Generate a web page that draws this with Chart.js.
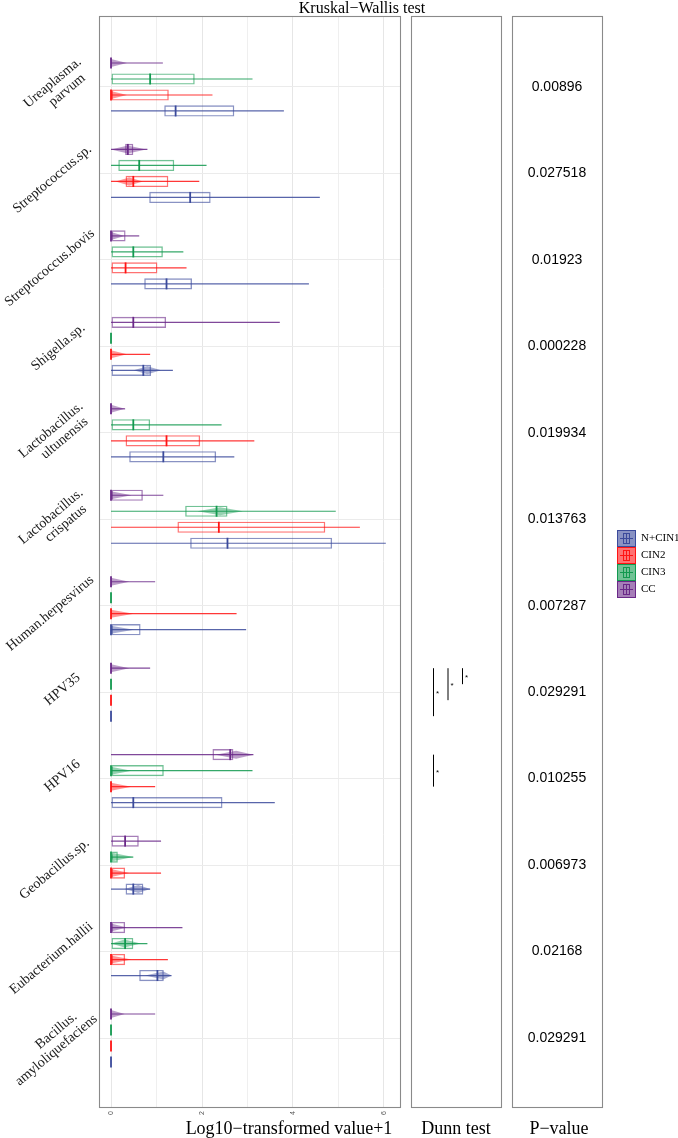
<!DOCTYPE html>
<html>
<head>
<meta charset="utf-8">
<title>Kruskal-Wallis test</title>
<script src="https://cdn.jsdelivr.net/npm/chart.js@4.4.1/dist/chart.umd.min.js"></script>
<style>
  html, body { margin: 0; padding: 0; background: #fff; }
  #wrap { width: 678px; height: 1138px; }
</style>
</head>
<body>
<div id="wrap"><canvas id="chart" width="678" height="1138"></canvas></div>
<script>
// taxa, top to bottom
var taxa = [['Ureaplasma.', 'parvum'], ['Streptococcus.sp.'], ['Streptococcus.bovis'], ['Shigella.sp.'],
  ['Lactobacillus.', 'ultunensis'], ['Lactobacillus.', 'crispatus'], ['Human.herpesvirus'], ['HPV35'],
  ['HPV16'], ['Geobacillus.sp.'], ['Eubacterium.hallii'], ['Bacillus.', 'amyloliquefaciens']];
var taxonKeys = ['Ureaplasma.parvum', 'Streptococcus.sp.', 'Streptococcus.bovis', 'Shigella.sp.',
  'Lactobacillus.ultunensis', 'Lactobacillus.crispatus', 'Human.herpesvirus', 'HPV35',
  'HPV16', 'Geobacillus.sp.', 'Eubacterium.hallii', 'Bacillus.amyloliquefaciens'];
var groups = ['N+CIN1', 'CIN2', 'CIN3', 'CC'];
var groupColors = ['#3b4a9b', '#ff1414', '#12994f', '#6a2888'];

// [min, q1, median, q3, max] per taxon
var nCin1Stats = [[0, 1.17, 1.42, 2.71, 3.80], [0, 0.84, 1.74, 2.19, 4.59], [0, 0.73, 1.22, 1.78, 4.35], [0, 0, 0.71, 0.88, 1.36],
  [0, 0.40, 1.15, 2.31, 2.71], [0, 1.74, 2.56, 4.86, 6.04], [0, 0, 0, 0.65, 2.97], [0, 0, 0, 0, 0],
  [0, 0, 0.49, 2.45, 3.60], [0, 0.32, 0.49, 0.71, 0.86], [0, 0.62, 1.02, 1.16, 1.33], [0, 0, 0, 0, 0]];
var cin2Stats = [[0, 0, 0, 1.27, 2.23], [0, 0.32, 0.49, 1.26, 1.94], [0, 0, 0.32, 1.02, 1.66], [0, 0, 0, 0, 0.86],
  [0, 0.32, 1.22, 1.96, 3.15], [0, 1.46, 2.37, 4.71, 5.47], [0, 0, 0, 0, 2.76], [0, 0, 0, 0, 0],
  [0, 0, 0, 0, 0.97], [0, 0, 0, 0.31, 1.10], [0, 0, 0, 0.31, 1.25], [0, 0, 0, 0, 0]];
var cin3Stats = [[0, 0, 0.86, 1.84, 3.11], [0, 0.16, 0.62, 1.39, 2.10], [0, 0, 0.49, 1.14, 1.59], [0, 0, 0, 0, 0],
  [0, 0, 0.49, 0.86, 2.43], [0, 1.63, 2.32, 2.56, 4.94], [0, 0, 0, 0, 0], [0, 0, 0, 0, 0],
  [0, 0, 0, 1.16, 3.11], [0, 0, 0, 0.15, 0.49], [0, 0, 0.31, 0.49, 0.80], [0, 0, 0, 0, 0]];
var ccStats = [[0, 0, 0, 0, 1.14], [0, 0.31, 0.37, 0.49, 0.80], [0, 0, 0, 0.32, 0.62], [0, 0, 0.49, 1.21, 3.71],
  [0, 0, 0, 0, 0.31], [0, 0, 0, 0.70, 1.15], [0, 0, 0, 0, 0.97], [0, 0, 0, 0, 0.86],
  [0, 2.23, 2.62, 2.69, 3.13], [0, 0, 0.31, 0.61, 1.10], [0, 0, 0, 0.31, 1.57], [0, 0, 0, 0, 0.97]];

// violin outline: [peak value, spread] or null
var nCin1Violin = [null, null, null, [0.8, 0.3], null, null, [0, 0.5], null, null, [0.6, 0.3], [1.15, 0.4], null];
var cin2Violin = [[0, 0.35], [0.4, 0.3], null, [0, 0.35], null, null, [0, 0.5], null, [0, 0.45], [0, 0.4], [0, 0.45], null];
var cin3Violin = [null, null, null, null, null, [2.4, 0.5], null, null, [0, 0.45], [0.05, 0.45], [0.3, 0.35], null];
var ccViolin = [[0, 0.35], [0.37, 0.4], [0, 0.3], null, [0, 0.3], [0, 0.45], [0, 0.4], [0, 0.4], [2.75, 0.45], null, [0, 0.35], [0, 0.3]];

var pValues = ['0.00896', '0.027518', '0.01923', '0.000228', '0.019934', '0.013763',
  '0.007287', '0.029291', '0.010255', '0.006973', '0.02168', '0.029291'];

// Dunn test: [taxon, group a, group b, label]
var dunnPairs = [['HPV35', 'CC', 'N+CIN1', '*'], ['HPV35', 'CC', 'CIN2', '*'], ['HPV35', 'CC', 'CIN3', '*'],
  ['HPV16', 'CC', 'CIN2', '*']];

var xTicks = [0, 1, 2, 3, 4, 5, 6];

var statsByGroup = [nCin1Stats, cin2Stats, cin3Stats, ccStats];
var violinByGroup = [nCin1Violin, cin2Violin, cin3Violin, ccViolin];

function rgba(hex, a) {
  var n = parseInt(hex.slice(1), 16);
  return 'rgba(' + (n >> 16) + ',' + ((n >> 8) & 255) + ',' + (n & 255) + ',' + a + ')';
}

// datasets drawn top to bottom inside each taxon: CC, CIN3, CIN2, N+CIN1
var order = [3, 2, 1, 0];
var datasets = order.map(function(g) {
  return {
    label: groups[g],
    data: statsByGroup[g].map(function(s, i) {
      return { x: s[1] === s[3] ? null : [s[1], s[3]], y: i };
    }),
    backgroundColor: 'rgba(255,255,255,0)',
    borderColor: rgba(groupColors[g], 0.6),
    borderWidth: 1.4,
    borderSkipped: false,
    categoryPercentage: 0.74,
    barPercentage: 0.7
  };
});

function groupCenter(chart, g, i) {
  return chart.getDatasetMeta(order.indexOf(g)).data[i].y;
}

var SERIF = '"Liberation Serif", "DejaVu Serif", serif';
var SANS = '"Liberation Sans", Arial, sans-serif';

var boxPlugin = {
  id: 'boxParts',
  beforeDatasetsDraw: function(chart) {
    var ctx = chart.ctx, xs = chart.scales.x;
    ctx.save();
    order.forEach(function(g, d) {
      var meta = chart.getDatasetMeta(d);
      statsByGroup[g].forEach(function(s, i) {
        var y = meta.data[i].y;
        var v = violinByGroup[g][i];
        if (v) {
          var a = Math.max(s[0], v[0] - v[1]), b = Math.min(s[4], v[0] + v[1]);
          ctx.fillStyle = rgba(groupColors[g], 0.45);
          ctx.beginPath();
          ctx.moveTo(xs.getPixelForValue(a), y);
          ctx.lineTo(xs.getPixelForValue(v[0]), y - 4);
          ctx.lineTo(xs.getPixelForValue(b), y);
          ctx.lineTo(xs.getPixelForValue(v[0]), y + 4);
          ctx.closePath();
          ctx.fill();
        }
        if (s[4] > s[0]) {
          ctx.strokeStyle = rgba(groupColors[g], 0.85);
          ctx.lineWidth = 1.2;
          ctx.beginPath();
          ctx.moveTo(xs.getPixelForValue(s[0]), y);
          ctx.lineTo(xs.getPixelForValue(s[4]), y);
          ctx.stroke();
        }
      });
    });
    ctx.restore();
  },
  afterDatasetsDraw: function(chart) {
    var ctx = chart.ctx, xs = chart.scales.x;
    ctx.save();
    order.forEach(function(g, d) {
      var meta = chart.getDatasetMeta(d);
      statsByGroup[g].forEach(function(s, i) {
        var y = meta.data[i].y, h = 5.5;
        var mx = xs.getPixelForValue(s[2]);
        ctx.strokeStyle = groupColors[g];
        ctx.lineWidth = 1.8;
        ctx.beginPath();
        ctx.moveTo(mx, y - h);
        ctx.lineTo(mx, y + h);
        ctx.stroke();
      });
    });
    ctx.restore();
  },
  afterDraw: function(chart) {
    var ctx = chart.ctx, ys = chart.scales.y, area = chart.chartArea;
    var top = area.top, bottom = area.bottom;
    ctx.save();
    // panel borders
    ctx.strokeStyle = '#8a8a8a';
    ctx.lineWidth = 1.1;
    ctx.strokeRect(area.left + 0.5, top + 0.5, area.right - area.left, bottom - top);
    var dunnLeft = 411, dunnRight = 501, pLeft = 512, pRight = 602;
    ctx.strokeRect(dunnLeft + 0.5, top + 0.5, dunnRight - dunnLeft, bottom - top);
    ctx.strokeRect(pLeft + 0.5, top + 0.5, pRight - pLeft, bottom - top);

    // taxon labels, rotated
    ctx.fillStyle = '#1a1a1a';
    ctx.font = '14px ' + SERIF;
    ctx.textBaseline = 'middle';
    ctx.textAlign = 'left';
    taxa.forEach(function(lines, i) {
      var cy = ys.getPixelForValue(i);
      ctx.save();
      ctx.translate(70, cy - 9);
      ctx.rotate(-40 * Math.PI / 180);
      lines.forEach(function(t, k) {
        var w = ctx.measureText(t).width;
        ctx.fillText(t, -0.735 * w, (k - (lines.length - 1) / 2) * 15);
      });
      ctx.restore();
    });

    // p-values
    ctx.fillStyle = '#000';
    ctx.font = '14px ' + SANS;
    ctx.textAlign = 'center';
    pValues.forEach(function(p, i) {
      ctx.fillText(p, (pLeft + pRight) / 2, ys.getPixelForValue(i));
    });

    // Dunn test brackets
    var cols = {};
    ctx.strokeStyle = '#000';
    ctx.lineWidth = 1;
    dunnPairs.forEach(function(p) {
      var i = taxonKeys.indexOf(p[0]);
      var k = cols[p[0]] || 0;
      cols[p[0]] = k + 1;
      var y1 = groupCenter(chart, groups.indexOf(p[1]), i);
      var y2 = groupCenter(chart, groups.indexOf(p[2]), i);
      var x = dunnLeft + 22 + k * 14.5;
      ctx.beginPath();
      ctx.moveTo(x + 0.5, y1);
      ctx.lineTo(x + 0.5, y2);
      ctx.stroke();
      ctx.font = '8px ' + SANS;
      ctx.textAlign = 'left';
      ctx.fillText(p[3], x + 3, (y1 + y2) / 2 + 2);
    });

    // titles
    ctx.fillStyle = '#000';
    ctx.textBaseline = 'alphabetic';
    ctx.textAlign = 'center';
    ctx.font = '16px ' + SERIF;
    ctx.fillText('Kruskal\u2212Wallis test', 362, 13);
    ctx.font = '18px ' + SERIF;
    ctx.fillText('Log10\u2212transformed value+1', 289, 1134);
    ctx.fillText('Dunn test', (dunnLeft + dunnRight) / 2, 1134);
    ctx.fillText('P\u2212value', (pLeft + pRight) / 2 + 2, 1134);

    // legend
    ctx.textBaseline = 'middle';
    ctx.textAlign = 'left';
    ctx.font = '11px ' + SERIF;
    groups.forEach(function(g, k) {
      var x0 = 617, y0 = 530 + k * 17, c = groupColors[k];
      ctx.fillStyle = rgba(c, 0.6);
      ctx.fillRect(x0, y0, 18, 16);
      ctx.strokeStyle = c;
      ctx.lineWidth = 1;
      ctx.strokeRect(x0 + 0.5, y0 + 0.5, 18, 16);
      ctx.beginPath();
      ctx.moveTo(x0 + 3, y0 + 8.5);
      ctx.lineTo(x0 + 16, y0 + 8.5);
      ctx.stroke();
      ctx.strokeRect(x0 + 6.5, y0 + 3.5, 6, 10);
      ctx.beginPath();
      ctx.moveTo(x0 + 9.5, y0 + 3);
      ctx.lineTo(x0 + 9.5, y0 + 14);
      ctx.stroke();
      ctx.fillStyle = '#000';
      ctx.fillText(g, x0 + 24, y0 + 8);
    });
    ctx.restore();
  }
};

new Chart(document.getElementById('chart'), {
  type: 'bar',
  data: { datasets: datasets },
  plugins: [boxPlugin],
  options: {
    indexAxis: 'y',
    responsive: false,
    animation: false,
    devicePixelRatio: 1,
    layout: { padding: { left: 99, right: 278, top: 16, bottom: 0 } },
    plugins: { legend: { display: false }, tooltip: { enabled: false } },
    scales: {
      x: {
        type: 'linear',
        min: -0.264,
        max: 6.352,
        offset: false,
        afterBuildTicks: function(s) { s.ticks = xTicks.map(function(v) { return { value: v }; }); },
        afterFit: function(s) { s.height = 31; },
        border: { display: false },
        grid: {
          offset: false,
          drawTicks: false,
          color: function(c) { return c.tick && c.tick.value % 2 === 0 ? '#e6e6e6' : '#efefef'; },
          lineWidth: 1
        },
        ticks: {
          autoSkip: false,
          minRotation: 90,
          maxRotation: 90,
          padding: 4,
          color: '#555',
          font: { size: 7, family: SANS },
          callback: function(v) { return v % 2 === 0 ? String(v) : ''; }
        }
      },
      y: {
        type: 'linear',
        reverse: true,
        offset: false,
        min: -0.821,
        max: 11.798,
        afterBuildTicks: function(s) { s.ticks = taxa.map(function(t, i) { return { value: i }; }); },
        afterFit: function(s) { s.width = 0; },
        border: { display: false },
        grid: { offset: false, drawTicks: false, color: '#ebebeb', lineWidth: 1 },
        ticks: { display: false }
      }
    }
  }
});
</script>
</body>
</html>
